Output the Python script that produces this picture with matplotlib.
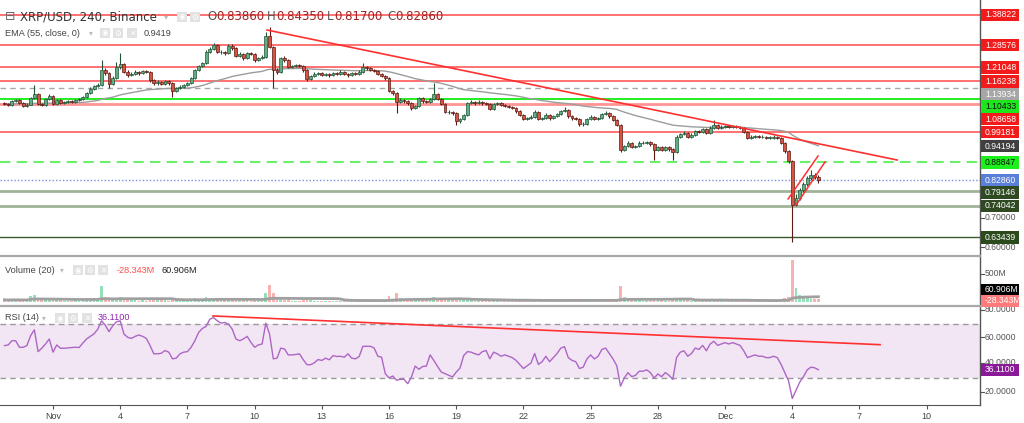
import numpy as np
import pandas as pd
import matplotlib
matplotlib.use("Agg")
import matplotlib.pyplot as plt
import matplotlib.dates as mdates
from matplotlib.patches import Rectangle
from matplotlib.lines import Line2D

# ---------------- data ----------------
first_open = 1.090
closes = [
    1.086, 1.083, 1.096, 1.100, 1.089, 1.079, 1.083, 1.106, 1.120, 1.086,
    1.083, 1.103, 1.113, 1.086, 1.100, 1.089, 1.093, 1.096, 1.093, 1.100,
    1.103, 1.110, 1.123, 1.137, 1.147, 1.151, 1.201, 1.191, 1.154, 1.174,
    1.212, 1.222, 1.195, 1.184, 1.188, 1.195, 1.191, 1.198, 1.195, 1.168,
    1.157, 1.161, 1.154, 1.164, 1.157, 1.130, 1.140, 1.144, 1.151, 1.157,
    1.174, 1.201, 1.215, 1.225, 1.263, 1.273, 1.286, 1.263, 1.263, 1.259,
    1.283, 1.276, 1.249, 1.256, 1.242, 1.259, 1.256, 1.235, 1.242, 1.246,
    1.317, 1.280, 1.201, 1.195, 1.242, 1.235, 1.212, 1.215, 1.218, 1.215,
    1.201, 1.171, 1.181, 1.188, 1.191, 1.184, 1.188, 1.184, 1.191, 1.188,
    1.195, 1.188, 1.184, 1.191, 1.188, 1.195, 1.212, 1.208, 1.201, 1.198,
    1.188, 1.181, 1.174, 1.130, 1.123, 1.093, 1.100, 1.096, 1.089, 1.072,
    1.079, 1.106, 1.096, 1.093, 1.103, 1.120, 1.103, 1.086, 1.059, 1.059,
    1.055, 1.028, 1.035, 1.049, 1.089, 1.093, 1.089, 1.093, 1.089, 1.086,
    1.069, 1.086, 1.089, 1.083, 1.079, 1.076, 1.072, 1.062, 1.049, 1.035,
    1.038, 1.042, 1.059, 1.035, 1.038, 1.049, 1.038, 1.045, 1.052, 1.062,
    1.066, 1.045, 1.038, 1.035, 1.018, 1.018, 1.035, 1.042, 1.035, 1.038,
    1.052, 1.055, 1.045, 1.032, 1.015, 0.930, 0.943, 0.954, 0.940, 0.943,
    0.954, 0.954, 0.957, 0.950, 0.930, 0.940, 0.930, 0.940, 0.933, 0.923,
    0.974, 0.984, 0.988, 0.974, 0.981, 0.994, 0.991, 1.001, 0.988, 1.005,
    1.015, 1.005, 1.008, 1.011, 1.008, 1.011, 1.008, 1.005, 0.991, 0.971,
    0.974, 0.977, 0.974, 0.974, 0.971, 0.971, 0.974, 0.971, 0.954, 0.926,
    0.892, 0.743, 0.767, 0.794, 0.814, 0.835, 0.845, 0.8386, 0.8286]
highs = [
    1.094, 1.090, 1.100, 1.104, 1.103, 1.092, 1.088, 1.110, 1.151, 1.124,
    1.090, 1.107, 1.120, 1.117, 1.104, 1.103, 1.097, 1.100, 1.099, 1.104,
    1.107, 1.114, 1.127, 1.142, 1.152, 1.156, 1.235, 1.208, 1.195, 1.180,
    1.230, 1.259, 1.226, 1.200, 1.193, 1.200, 1.199, 1.203, 1.202, 1.199,
    1.172, 1.166, 1.165, 1.168, 1.168, 1.160, 1.145, 1.149, 1.155, 1.161,
    1.178, 1.206, 1.220, 1.230, 1.268, 1.278, 1.293, 1.290, 1.268, 1.266,
    1.289, 1.288, 1.280, 1.261, 1.260, 1.264, 1.263, 1.260, 1.247, 1.251,
    1.330, 1.347, 1.284, 1.207, 1.247, 1.248, 1.239, 1.220, 1.223, 1.222,
    1.219, 1.205, 1.186, 1.193, 1.196, 1.195, 1.192, 1.192, 1.196, 1.195,
    1.200, 1.199, 1.192, 1.195, 1.195, 1.200, 1.225, 1.216, 1.212, 1.205,
    1.202, 1.192, 1.185, 1.178, 1.135, 1.127, 1.105, 1.104, 1.100, 1.093,
    1.084, 1.111, 1.110, 1.100, 1.108, 1.157, 1.124, 1.107, 1.090, 1.064,
    1.063, 1.059, 1.040, 1.053, 1.094, 1.098, 1.097, 1.098, 1.097, 1.093,
    1.090, 1.091, 1.094, 1.093, 1.087, 1.083, 1.080, 1.076, 1.066, 1.053,
    1.043, 1.047, 1.064, 1.063, 1.043, 1.054, 1.053, 1.050, 1.057, 1.067,
    1.075, 1.070, 1.049, 1.042, 1.039, 1.024, 1.040, 1.047, 1.046, 1.043,
    1.057, 1.062, 1.059, 1.049, 1.036, 1.019, 0.948, 0.959, 0.958, 0.948,
    0.959, 0.959, 0.962, 0.961, 0.954, 0.945, 0.944, 0.945, 0.944, 0.937,
    0.979, 0.989, 0.993, 0.992, 0.986, 0.999, 0.998, 1.006, 1.005, 1.010,
    1.032, 1.019, 1.013, 1.016, 1.015, 1.016, 1.015, 1.012, 1.009, 0.995,
    0.979, 0.982, 0.981, 0.979, 0.978, 0.976, 0.979, 0.978, 0.975, 0.958,
    0.930, 0.897, 0.780, 0.800, 0.820, 0.842, 0.862, 0.852, 0.8435]
lows = [
    1.082, 1.079, 1.080, 1.092, 1.085, 1.075, 1.076, 1.081, 1.103, 1.082,
    1.078, 1.080, 1.100, 1.082, 1.083, 1.085, 1.086, 1.090, 1.089, 1.090,
    1.097, 1.100, 1.107, 1.120, 1.134, 1.143, 1.148, 1.185, 1.140, 1.150,
    1.170, 1.205, 1.190, 1.178, 1.180, 1.184, 1.186, 1.187, 1.190, 1.160,
    1.150, 1.152, 1.149, 1.150, 1.152, 1.110, 1.126, 1.136, 1.140, 1.147,
    1.153, 1.170, 1.197, 1.211, 1.221, 1.258, 1.268, 1.258, 1.257, 1.254,
    1.255, 1.271, 1.244, 1.245, 1.237, 1.238, 1.251, 1.230, 1.231, 1.238,
    1.242, 1.275, 1.140, 1.188, 1.190, 1.230, 1.207, 1.208, 1.211, 1.210,
    1.196, 1.165, 1.167, 1.177, 1.184, 1.180, 1.180, 1.179, 1.180, 1.183,
    1.184, 1.183, 1.179, 1.180, 1.183, 1.184, 1.190, 1.203, 1.197, 1.193,
    1.183, 1.176, 1.169, 1.125, 1.118, 1.055, 1.088, 1.091, 1.084, 1.066,
    1.068, 1.075, 1.091, 1.088, 1.089, 1.099, 1.098, 1.081, 1.054, 1.053,
    1.050, 1.015, 1.023, 1.031, 1.045, 1.085, 1.084, 1.085, 1.084, 1.081,
    1.064, 1.065, 1.082, 1.079, 1.075, 1.071, 1.068, 1.057, 1.044, 1.030,
    1.031, 1.034, 1.038, 1.030, 1.031, 1.034, 1.033, 1.034, 1.041, 1.048,
    1.058, 1.040, 1.033, 1.030, 1.012, 1.012, 1.014, 1.031, 1.030, 1.031,
    1.034, 1.048, 1.040, 1.027, 1.010, 0.923, 0.926, 0.939, 0.935, 0.936,
    0.939, 0.949, 0.950, 0.945, 0.896, 0.925, 0.925, 0.926, 0.928, 0.896,
    0.919, 0.970, 0.980, 0.969, 0.970, 0.977, 0.986, 0.987, 0.983, 0.984,
    1.001, 1.000, 1.001, 1.004, 1.003, 1.004, 1.003, 1.000, 0.986, 0.966,
    0.967, 0.970, 0.969, 0.969, 0.966, 0.966, 0.967, 0.966, 0.949, 0.920,
    0.885, 0.617, 0.738, 0.760, 0.788, 0.808, 0.829, 0.832, 0.817]
volumes_m = [
    40, 30, 45, 35, 30, 40, 35, 110, 120, 60,
    40, 50, 55, 45, 35, 30, 25, 25, 25, 30,
    25, 35, 40, 45, 40, 45, 290, 90, 80, 50,
    70, 80, 60, 40, 30, 30, 25, 30, 25, 45,
    40, 30, 30, 30, 25, 55, 35, 40, 45, 40,
    60, 70, 60, 55, 80, 55, 60, 50, 35, 30,
    45, 35, 40, 30, 30, 30, 25, 35, 25, 30,
    166, 300, 160, 70, 60, 40, 45, 25, 25, 25,
    35, 55, 30, 25, 22, 20, 22, 20, 25, 22,
    25, 22, 20, 22, 20, 25, 45, 30, 25, 22,
    30, 35, 40, 100, 60, 166, 70, 50, 40, 50,
    35, 50, 30, 30, 45, 96, 60, 50, 60, 30,
    30, 60, 35, 40, 70, 35, 25, 22, 20, 22,
    35, 30, 22, 20, 22, 20, 22, 30, 35, 40,
    30, 25, 40, 35, 25, 30, 25, 22, 25, 30,
    30, 35, 25, 25, 40, 25, 30, 25, 22, 20,
    30, 25, 25, 35, 60, 290, 80, 50, 40, 30,
    30, 25, 22, 25, 60, 35, 30, 25, 25, 50,
    75, 40, 30, 30, 25, 35, 25, 30, 25, 35,
    45, 30, 22, 20, 22, 20, 22, 20, 35, 50,
    25, 22, 20, 20, 22, 20, 20, 22, 50, 70,
    90, 745, 243, 120, 90, 70, 60, 45, 61]
rsi_values = [
    53.8, 54.3, 57.4, 57.4, 52.6, 52.6, 53.8, 61.1, 65.4, 49.4,
    51.9, 55.0, 58.7, 49.0, 54.3, 51.9, 51.9, 52.1, 52.4, 52.6,
    52.4, 55.7, 58.7, 60.6, 62.5, 65.9, 72.0, 68.8, 64.0, 68.4,
    71.3, 72.0, 62.3, 59.9, 59.1, 60.6, 61.6, 60.6, 59.1, 53.8,
    47.8, 47.8, 48.2, 50.2, 49.0, 44.1, 44.6, 47.8, 49.0, 49.4,
    52.6, 57.4, 63.5, 66.4, 67.9, 73.2, 74.4, 72.0, 70.3, 70.8,
    69.6, 65.9, 58.7, 57.4, 58.7, 60.6, 56.2, 52.6, 54.3, 55.0,
    70.3, 62.3, 44.1, 44.6, 51.9, 51.4, 47.0, 47.0, 47.3, 47.8,
    43.6, 39.8, 39.8, 41.2, 43.6, 42.9, 44.6, 43.4, 46.5, 45.8,
    46.0, 45.3, 47.8, 44.6, 44.1, 45.8, 53.3, 53.3, 53.3, 52.1,
    46.0, 45.3, 33.2, 30.1, 31.5, 28.4, 29.1, 29.1, 25.9, 30.8,
    38.8, 36.4, 38.5, 38.8, 47.0, 42.9, 38.5, 34.4, 33.2, 32.0,
    30.8, 34.4, 37.3, 46.5, 49.4, 49.0, 47.8, 47.0, 49.4, 50.2,
    44.1, 49.0, 47.8, 46.0, 47.0, 46.0, 45.0, 43.0, 40.0, 37.0,
    39.0, 41.0, 48.0, 40.0, 42.0, 46.0, 42.0, 45.0, 48.0, 52.0,
    53.0, 45.0, 43.0, 42.0, 37.0, 38.0, 44.0, 47.0, 44.0, 46.0,
    51.0, 52.0, 48.0, 44.0, 39.0, 24.0, 30.0, 34.0, 31.0, 32.0,
    35.0, 35.0, 36.0, 34.0, 30.0, 33.0, 31.0, 34.0, 32.0, 29.0,
    45.0, 49.0, 50.0, 46.0, 48.0, 52.0, 51.0, 54.0, 50.0, 55.0,
    57.0, 54.0, 55.0, 56.0, 55.0, 56.0, 55.0, 54.0, 50.0, 45.0,
    46.0, 47.0, 46.0, 46.0, 45.0, 45.0, 46.0, 45.0, 40.0, 34.0,
    28.0, 15.0, 21.0, 27.0, 31.0, 36.0, 38.0, 37.5, 36.11]
first_candle = "2021-10-29 20:00"

level_prices = [1.38822, 1.28576, 1.21048, 1.16238, 1.13934, 1.10433, 1.08658,
                0.99181, 0.88847, 0.82860, 0.79146, 0.74042, 0.63439]
level_colors = ['#ff4a4a', '#ff4a4a', '#ff4a4a', '#ff4a4a', '#a8a8a8', '#22ee22', '#ff9494',
                '#ff4a4a', '#6cf06c', '#7590e0', '#9fb397', '#9fb397', '#3c5a2c']
level_styles = ['-', '-', '-', '-', (0, (4, 3)), '-', '-', '-', (0, (5, 3)), (0, (1, 1.5)), '-', '-', '-']
level_widths = [1.1, 1.1, 1.1, 1.1, 1.0, 1.4, 2.0, 1.1, 1.5, 1.0, 2.0, 2.0, 1.0]

price_labels = ['1.38822', '1.28576', '1.21048', '1.16238', '1.13934', '1.10433', '1.08658', '0.99181',
                '0.94194', '0.88847', '0.82860', '0.79146', '0.74042', '0.70000', '0.63439', '0.60000']
price_label_pos = [1.38822, 1.28576, 1.21048, 1.16238, 1.1189, 1.0768, 1.0350, 0.9899,
                   0.9433, 0.8867, 0.8269, 0.7848, 0.7396, 0.70, 0.6320, 0.60]
RED = '#f21b1b'
price_label_bg = [RED, RED, RED, RED, '#a6a6a6', '#1de61d', RED, RED,
                  '#404040', '#1ef01e', '#5a7fd8', '#2f4a22', '#2f4a22', None, '#2b4a1c', None]
price_label_fg = ['white', 'white', 'white', 'white', 'white', '#111111', 'white', 'white',
                  'white', '#111111', 'white', 'white', 'white', '#555555', 'white', '#555555']

vol_labels = ['500M', '60.906M', '-28.343M']
vol_label_pos = [500, 214, 18]
vol_label_bg = [None, '#000000', '#ff7a7a']
vol_label_fg = ['#555555', 'white', 'white']

rsi_labels = ['80.0000', '60.0000', '40.0000', '36.1100', '20.0000']
rsi_label_pos = [80, 60, 41.3, 36.11, 20]
rsi_label_bg = [None, None, None, '#8b1a99', None]
rsi_label_fg = ['#555555', '#555555', '#555555', 'white', '#555555']

trend_dates = ["2021-11-10 13:18", "2021-12-08 16:19"]
trend_prices = [1.3372, 0.8958]
chan_upper_dates = ["2021-12-03 19:30", "2021-12-05 03:36"]
chan_upper_prices = [0.7634, 0.9094]
chan_lower_dates = ["2021-12-04 04:05", "2021-12-05 11:03"]
chan_lower_prices = [0.7430, 0.8890]
rsi_trend_dates = ["2021-11-08 03:26", "2021-12-07 22:05"]
rsi_trend_values = [75.6, 54.5]

tick_dates = ["2021-11-01", "2021-11-04", "2021-11-07", "2021-11-10", "2021-11-13", "2021-11-16",
              "2021-11-19", "2021-11-22", "2021-11-25", "2021-11-28", "2021-12-01", "2021-12-04",
              "2021-12-07", "2021-12-10"]
tick_labels = ['Nov', '4', '7', '10', '13', '16', '19', '22', '25', '28', 'Dec', '4', '7', '10']

# ---------------- figure ----------------
W, H = 1024, 423
fig = plt.figure(figsize=(W / 100, H / 100), dpi=100)
fig.patch.set_facecolor('white')


def fx(px):
    return px / W


def fy(py):
    return 1 - py / H


ax = fig.add_axes([0, fy(255), fx(980), 255 / H])
axv = fig.add_axes([0, fy(305), fx(980), 49 / H])
axr = fig.add_axes([0, fy(405), fx(980), 99 / H])

times = pd.date_range(first_candle, periods=len(closes), freq='4h')
xs = mdates.date2num(times.to_pydatetime())
nov1 = mdates.date2num(pd.Timestamp("2021-11-01").to_pydatetime())
xl = (nov1 - 2.366, nov1 + 41.38)

c = np.array(closes)
o = np.array([first_open] + closes[:-1])
hi = np.array(highs)
lo = np.array(lows)
up = c >= o

for a in (ax, axv, axr):
    a.set_xlim(*xl)
    a.set_facecolor('white')
    a.spines['left'].set_visible(False)
    a.spines['right'].set_color('#555555')
    a.spines['right'].set_linewidth(1.0)
    a.set_yticks([])
ax.set_ylim(0.5732, 1.4391)
axv.set_ylim(-54, 821)
axr.set_ylim(10.2, 82.9)
ax.spines['top'].set_visible(False)
ax.spines['bottom'].set_visible(False)
axv.spines['bottom'].set_visible(False)
for a in (axv, axr):
    a.spines['top'].set_color('#a8a8a8')
    a.spines['top'].set_linewidth(1.6)
axr.spines['bottom'].set_color('#555555')
ax.set_xticks([])
axv.set_xticks([])

# levels
for p, col, ls, lw in zip(level_prices, level_colors, level_styles, level_widths):
    ax.axhline(p, color=col, ls=ls, lw=lw, zorder=1)

# EMA
ema = pd.Series(closes).ewm(span=55, adjust=False).mean()
ax.plot(xs, ema, color='#9c9c9c', lw=1.0, zorder=2)

# candles
UP_F, UP_E, DN_F, DN_E = '#5fae84', '#225437', '#d75442', '#5b1a13'
wick_cols = [UP_E if u else DN_E for u in up]
ax.vlines(xs, lo, hi, colors=wick_cols, lw=0.8, zorder=3)
body_h = np.maximum(np.abs(c - o), 0.0012)
ax.bar(xs, body_h, bottom=np.minimum(o, c), width=0.13,
       color=[UP_F if u else DN_F for u in up],
       edgecolor=[UP_E if u else DN_E for u in up], linewidth=0.5, zorder=4)


def dn(ds):
    return mdates.date2num(pd.to_datetime(ds).to_pydatetime())


ax.plot(dn(trend_dates), trend_prices, color='#ff3030', lw=1.2, zorder=5)
ax.plot(dn(chan_upper_dates), chan_upper_prices, color='#ff3030', lw=1.1, zorder=5)
ax.plot(dn(chan_lower_dates), chan_lower_prices, color='#ff3030', lw=1.1, zorder=5)

# volume
vcols = [(0.30, 0.80, 0.55, 0.6) if u else (0.95, 0.40, 0.40, 0.5) for u in up]
axv.bar(xs, volumes_m, width=0.12, color=vcols, zorder=2)
vma = pd.Series(volumes_m).rolling(20, min_periods=1).mean()
axv.plot(xs, vma, color='#a0a0a0', lw=2.0, zorder=3)

# RSI
axr.axhspan(30, 70, color='#f2e5f4', zorder=0, lw=0)
axr.axhline(70, color='#9a9a9a', ls=(0, (4, 3)), lw=1.0, zorder=1)
axr.axhline(30, color='#9a9a9a', ls=(0, (4, 3)), lw=1.0, zorder=1)
axr.plot(xs, rsi_values, color='#ad66c6', lw=1.0, zorder=2)
axr.plot(dn(rsi_trend_dates), rsi_trend_values, color='#ff3030', lw=1.2, zorder=3)

axr.set_xticks(dn(tick_dates))
axr.set_xticklabels(tick_labels, fontsize=6.5, family='Liberation Sans', color='#444444')
axr.tick_params(axis='x', length=3, color='#555555', pad=2, width=0.8)


# right-side labels
def fig_y_of(a, val):
    disp = a.transData.transform((xl[0], val))
    return fig.transFigure.inverted().transform(disp)[1]


def side_labels(a, texts, poss, bgs, fgs):
    for t, p, bg, fg in zip(texts, poss, bgs, fgs):
        yy = fig_y_of(a, p)
        if bg is not None:
            r = Rectangle((fx(980.5), yy - 6.2 / H), 38.5 / W, 12.4 / H, transform=fig.transFigure,
                          facecolor=bg, edgecolor='none', zorder=10)
            fig.add_artist(r)
            tz = 11
        else:
            fig.add_artist(Line2D([fx(980), fx(984)], [yy, yy], transform=fig.transFigure,
                                  color='#555555', lw=0.8, zorder=8))
            tz = 9
        fig.text(fx(985), yy, t, fontsize=6.2, family='Liberation Sans', color=fg,
                 ha='left', va='center', zorder=tz)


side_labels(ax, price_labels, price_label_pos, price_label_bg, price_label_fg)
side_labels(axv, vol_labels, vol_label_pos, vol_label_bg, vol_label_fg)
side_labels(axr, rsi_labels, rsi_label_pos, rsi_label_bg, rsi_label_fg)


# header texts
def ftext(x, y, s, size=6.6, color='#444444', family='Liberation Sans', **kw):
    fig.text(fx(x), fy(y), s, fontsize=size, color=color, family=family, ha='left', va='center',
             zorder=12, **kw)


def icon(x0, yc, glyph):
    fig.add_artist(Rectangle((fx(x0), fy(yc + 5)), 10 / W, 10 / H, transform=fig.transFigure,
                             facecolor='#e2e2e2', edgecolor='none', zorder=11))
    fig.text(fx(x0 + 5), fy(yc), glyph, fontsize=5.5, color='white', family='DejaVu Sans',
             ha='center', va='center', zorder=12)


ftext(5, 17, '\u229f', size=9, color='#666666', family='DejaVu Sans')
ftext(20, 17, 'XRP/USD, 240, Binance', size=8.5, color='#333333', family='DejaVu Sans')
ftext(164, 17, '\u25be', size=6, color='#bbbbbb', family='DejaVu Sans')
icon(177, 17, '\u25c9')
icon(190, 17, '\u2699')
ohlc_letters = ['O', 'H', 'L', 'C']
ohlc_values = ['0.83860', '0.84350', '0.81700', '0.82860']
letter_w = [9.5, 9.0, 6.8, 8.4]
for k, (L, v) in enumerate(zip(ohlc_letters, ohlc_values)):
    x0 = 207 + 60 * k
    ftext(x0, 17, L, size=8.5, color='#555555', family='DejaVu Sans')
    ftext(x0 + letter_w[k], 17, v, size=8.5, color='#9b2323', family='DejaVu Sans')

ftext(5, 33, 'EMA (55, close, 0)')
ftext(89, 33, '\u25be', size=5.5, color='#bbbbbb', family='DejaVu Sans')
icon(100, 33, '\u25c9')
icon(113, 33, '\u2699')
icon(127, 33, '\u2715')
ftext(144, 33, '0.9419')

ftext(5, 270, 'Volume (20)')
ftext(60, 270, '\u25be', size=5.5, color='#bbbbbb', family='DejaVu Sans')
icon(73, 270, '\u25c9')
icon(85, 270, '\u2699')
icon(98, 270, '\u2715')
ftext(117, 270, '-28.343M', color='#ff4d4d')
ftext(162, 270, '60.906M', color='#222222')

ftext(5, 318, 'RSI (14)')
ftext(42, 318, '\u25be', size=5.5, color='#bbbbbb', family='DejaVu Sans')
icon(55, 318, '\u25c9')
icon(68, 318, '\u2699')
icon(82, 318, '\u2715')
ftext(98, 318, '36.1100', color='#8e24aa')

fig.savefig('out.png', dpi=100, facecolor='white')
